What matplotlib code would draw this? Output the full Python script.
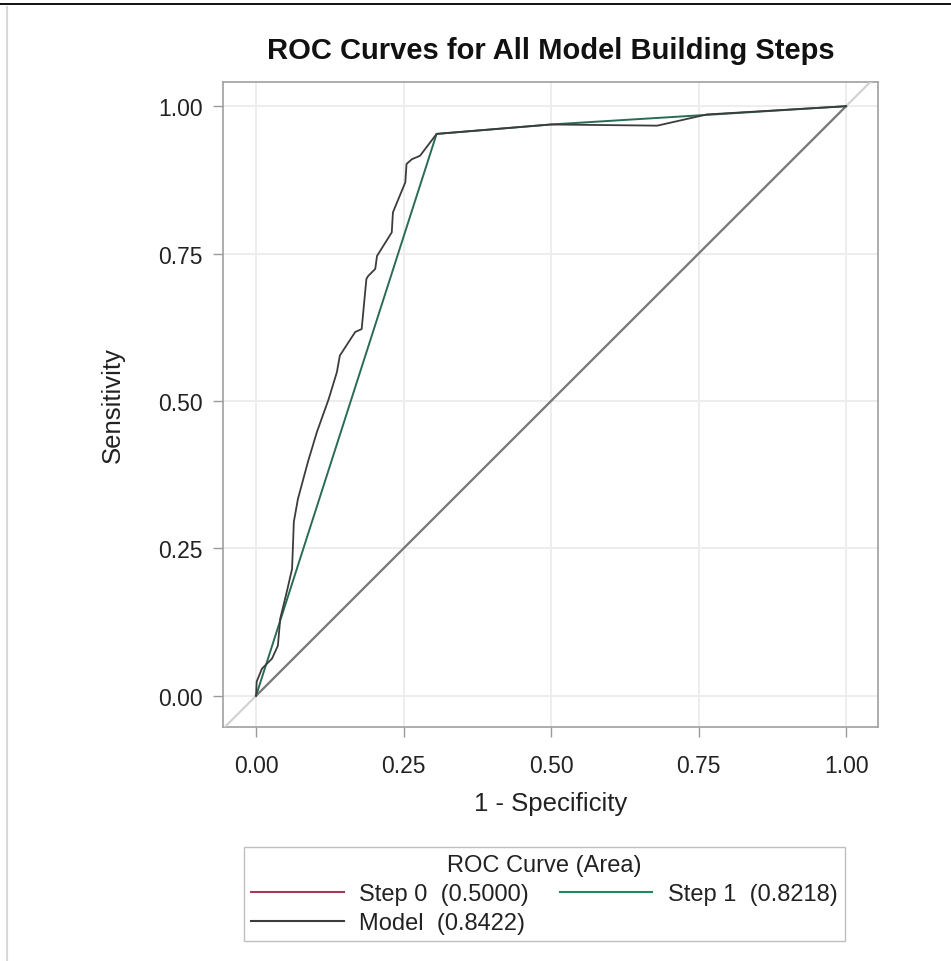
import matplotlib
matplotlib.use("Agg")
import matplotlib.pyplot as plt
from matplotlib.lines import Line2D

plt.rcParams['font.family'] = ['Liberation Sans', 'DejaVu Sans']

# ROC curve coordinates (1 - specificity, sensitivity)
step0_fpr = [0.0, 1.0]
step0_tpr = [0.0, 1.0]

step1_fpr = [0.0, 0.306, 0.50, 0.76, 1.0]
step1_tpr = [0.0, 0.953, 0.969, 0.985, 1.0]

model_fpr = [0.0, 0.001, 0.010, 0.027, 0.037, 0.041, 0.052, 0.061, 0.063, 0.064,
             0.071, 0.088, 0.103, 0.123, 0.137, 0.142, 0.168, 0.179, 0.187, 0.190,
             0.202, 0.205, 0.230, 0.232, 0.253, 0.255, 0.264, 0.278, 0.306,
             0.50, 0.68, 0.764, 1.0]
model_tpr = [0.0, 0.024, 0.046, 0.063, 0.085, 0.131, 0.176, 0.215, 0.266, 0.295,
             0.334, 0.397, 0.447, 0.503, 0.549, 0.577, 0.617, 0.622, 0.707, 0.712,
             0.724, 0.746, 0.786, 0.820, 0.871, 0.902, 0.910, 0.916, 0.953,
             0.969, 0.967, 0.986, 1.0]

curve_labels = ["Step 0  (0.5000)", "Step 1  (0.8218)", "Model  (0.8422)"]
ticks = [0.0, 0.25, 0.50, 0.75, 1.0]
tick_labels = ["0.00", "0.25", "0.50", "0.75", "1.00"]

c_step0 = "#a8385a"
c_step1 = "#2a6b56"
c_model = "#3c3c3c"

fig = plt.figure(figsize=(9.51, 9.62), dpi=100)
ax = fig.add_axes([0.2345, 0.2432, 0.6887, 0.6705])

xmin, xmax = -0.056, 1.054
ymin, ymax = -0.053, 1.041
ax.set_xlim(xmin, xmax)
ax.set_ylim(ymin, ymax)

for t in ticks:
    ax.axvline(t, color="#ededed", lw=1.4, zorder=0)
    ax.axhline(t, color="#ededed", lw=1.4, zorder=0)

ax.plot(step0_fpr, step0_tpr, color=c_step0, lw=1.0, zorder=2)
# chance reference line across the full plotting area
ax.plot([0, 1], [0, 1], color="#7a7a7a", lw=1.6, zorder=3)
ax.plot([xmin, 0], [xmin, 0], color="#d0d0d0", lw=1.5, zorder=3)
ax.plot([1, xmax], [1, xmax], color="#d0d0d0", lw=1.5, zorder=3)
ax.plot(step1_fpr, step1_tpr, color=c_step1, lw=1.4, zorder=4)
ax.plot(model_fpr, model_tpr, color=c_model, lw=1.3, zorder=5)

ax.set_xticks(ticks)
ax.set_xticklabels(tick_labels)
ax.set_yticks(ticks)
ax.set_yticklabels(tick_labels)
ax.tick_params(direction="out", length=7.5, width=1, color="#9a9a9a",
               labelsize=16.5, labelcolor="#222222", pad=7)
ax.tick_params(axis="x", pad=12)
for s in ax.spines.values():
    s.set_color("#a0a0a0")
    s.set_linewidth(1.2)

ax.set_xlabel("1 - Specificity", fontsize=18.5, color="#222222", labelpad=10)
ax.set_ylabel("Sensitivity", fontsize=18.5, color="#222222", labelpad=24)
ax.set_title("ROC Curves for All Model Building Steps", fontsize=21,
             fontweight="bold", color="#111111", pad=17)

h0 = Line2D([], [], color=c_step0, lw=1.5)
h1 = Line2D([], [], color="#1b8a5e", lw=1.5)
h2 = Line2D([], [], color=c_model, lw=1.5)
leg = fig.legend([h0, h2, h1], [curve_labels[0], curve_labels[2], curve_labels[1]],
                 ncol=2, title="ROC Curve (Area)", loc="upper center",
                 bbox_to_anchor=(0.5725, 1 - 848 / 962), borderaxespad=0,
                 fontsize=17, title_fontsize=17,
                 frameon=True, fancybox=False, handlelength=3.9, handletextpad=0.67,
                 columnspacing=1.3, labelspacing=0.3, borderpad=0.3)
leg.get_frame().set_edgecolor("#b0b0b0")
leg.get_frame().set_linewidth(1.0)
for t in leg.get_texts():
    t.set_color("#222222")
leg.get_title().set_color("#222222")

# page border lines
fig.add_artist(Line2D([0, 1], [1 - 5 / 962, 1 - 5 / 962], transform=fig.transFigure,
                      color="black", lw=1.3))
fig.add_artist(Line2D([6.5 / 951, 6.5 / 951], [0, 1 - 8 / 962], transform=fig.transFigure,
                      color="#d8d8d8", lw=1.5))

fig.savefig("out.png", dpi=100)
